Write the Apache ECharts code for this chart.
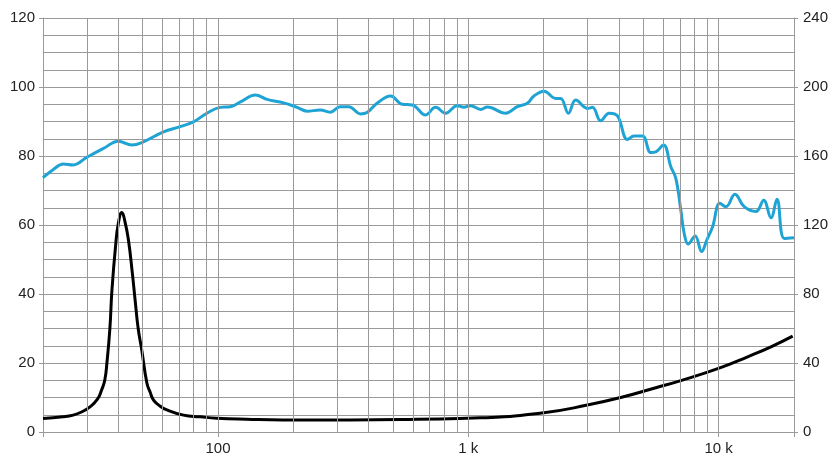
<!DOCTYPE html>
<html>
<head>
<meta charset="utf-8">
<script src="https://cdn.jsdelivr.net/npm/echarts@6/dist/echarts.min.js"></script>
<style>
html,body{margin:0;padding:0;background:#fff;}
#chart{width:840px;height:461px;}
</style>
</head>
<body>
<div id="chart"></div>
<script>
// Frequency response (left axis, dB) - [Hz, value]
var responseData = [[20,73.7],[22,76.1],[24.1,77.7],[26.4,77.4],[29.9,79.6],[34.9,82.2],[40,84.3],[45.3,83.2],[49.6,83.9],[60.6,87],[70.6,88.5],[79.8,89.9],[90.3,92.4],[102,94.1],[112,94.3],[123,95.7],[141,97.7],[157,96.4],[183,95.4],[207,94.1],[227,93],[256,93.3],[281,92.7],[308,94.3],[333,94.3],[371,92.2],[394,92.6],[432,95.3],[489,97.4],[544,95],[597,94.8],[675,91.9],[740,94.1],[811,92.4],[903,94.6],[960,94.1],[1021,94.6],[1120,93.5],[1191,94.2],[1409,92.4],[1570,94.3],[1721,95.3],[1829,97.4],[2006,98.8],[2234,96.7],[2339,96.7],[2511,92.4],[2686,96.2],[2990,93.8],[3132,94.1],[3381,90.2],[3649,92.4],[3944,91.6],[4323,84.8],[4594,85.8],[4964,85.8],[5358,81],[5610,81.2],[6023,83.2],[6442,76.9],[6745,73.5],[7063,64.3],[7282,57.6],[7555,54.5],[8058,56.8],[8548,52.3],[8974,55.7],[9459,59.5],[10116,66.3],[10691,65.3],[11616,68.9],[12652,65.3],[14093,63.9],[15132,67.2],[16181,62.1],[17100,67.5],[18290,56.1],[20000,56.3]];

// Impedance curve (left axis) - [Hz, value]
var impedanceData = [[20,3.9],[24,4.4],[26.4,4.9],[28.5,5.8],[30.8,7.3],[33,9.5],[34.3,12.2],[35.3,15],[36,20],[37,30],[37.7,41],[39,54],[40,60.5],[41.3,63.6],[42.5,61],[43.9,55.6],[45.5,46],[46.7,38],[48,30],[49.6,23.8],[52,14.2],[53.6,11.5],[55.2,9.3],[58,7.8],[62.5,6.4],[72.8,4.9],[85,4.4],[99,4.0],[130,3.7],[182,3.5],[338,3.5],[625,3.7],[1120,4.1],[2006,5.6],[2990,7.8],[4064,10],[5524,12.7],[7064,14.9],[10050,18.5],[13057,21.8],[16180,24.7],[19760,27.8]];

// Vertical grid line frequencies
var gridFreqs = [30,40,50,60,70,80,90,100,200,300,400,500,600,700,800,900,1000,2000,3000,4000,5000,6000,7000,8000,9000,10000];

// X tick labels
var xTickLabels = {100:'100', 1000:'1 k', 10000:'10 k'};

var gridColor = '#9a9a9a';
var textStyle = {color:'#222', fontFamily:'Liberation Sans, Arial, sans-serif', fontSize:15};

var chart = echarts.init(document.getElementById('chart'), null, {renderer:'canvas'});
chart.setOption({
  animation:false,
  backgroundColor:'#fff',
  grid:{left:43, right:46, top:18, bottom:29, containLabel:false},
  xAxis:{
    type:'log', logBase:10, min:20, max:20000,
    axisLine:{show:true, lineStyle:{color:gridColor, width:1}},
    axisTick:{show:true, inside:false, length:5, lineStyle:{color:gridColor}},
    splitLine:{show:false},
    axisLabel:Object.assign({margin:9, formatter:function(v){var r=Math.round(v); return xTickLabels[r]||'';}}, textStyle)
  },
  yAxis:[{
    type:'value', min:0, max:120, interval:20, position:'left',
    axisLine:{show:true, lineStyle:{color:gridColor}},
    axisTick:{show:true, inside:false, length:4, lineStyle:{color:gridColor}},
    splitLine:{show:true, lineStyle:{color:gridColor, width:1}},
    minorTick:{show:false, splitNumber:4},
    minorSplitLine:{show:true, lineStyle:{color:gridColor, width:1}},
    axisLabel:Object.assign({margin:8}, textStyle)
  },{
    type:'value', min:0, max:240, interval:40, position:'right',
    axisLine:{show:true, lineStyle:{color:gridColor}},
    axisTick:{show:true, inside:false, length:4, lineStyle:{color:gridColor}},
    splitLine:{show:false},
    axisLabel:Object.assign({margin:9}, textStyle)
  }],
  series:[{
    type:'line', name:'grid', data:[], z:1, silent:true,
    markLine:{
      silent:true, symbol:['none','none'], animation:false,
      label:{show:false},
      lineStyle:{color:gridColor, width:1, type:'solid'},
      data:gridFreqs.map(function(f){return {xAxis:f};})
    }
  },{
    type:'line', name:'impedance', data:impedanceData, yAxisIndex:0,
    showSymbol:false, smooth:0.5, z:3,
    lineStyle:{color:'#000', width:3}
  },{
    type:'line', name:'response', data:responseData, yAxisIndex:0,
    showSymbol:false, smooth:0.4, z:4,
    lineStyle:{color:'#1fa3d4', width:3}
  }]
});
</script>
</body>
</html>
